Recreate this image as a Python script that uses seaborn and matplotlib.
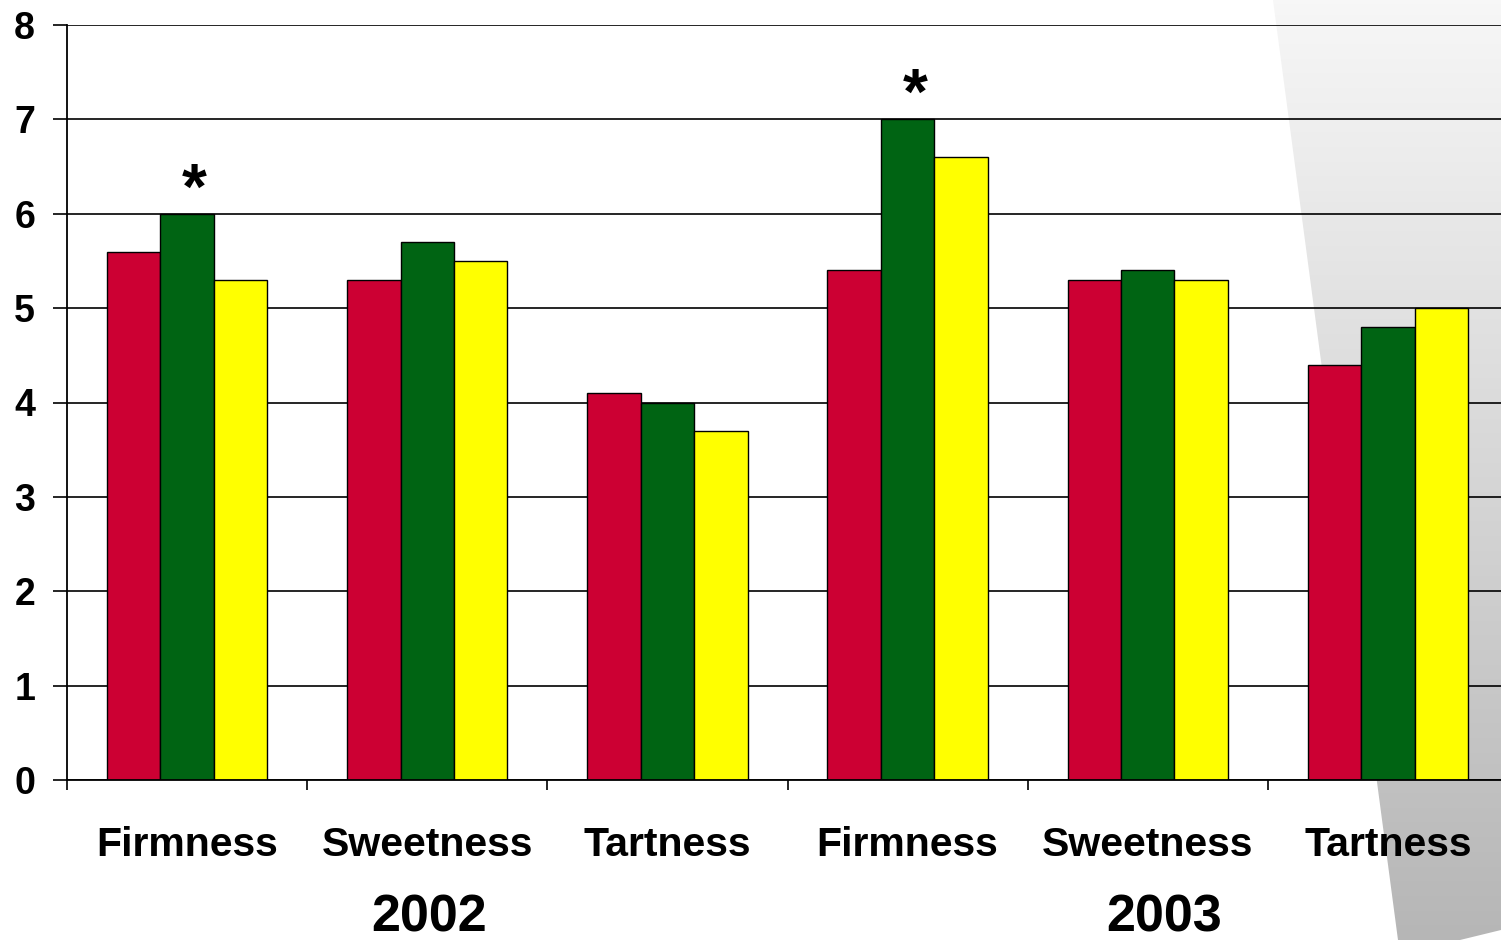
import numpy as np
import pandas as pd
import matplotlib
matplotlib.use("Agg")
import matplotlib.pyplot as plt
from matplotlib.patches import Polygon
import seaborn as sns

# Sensory scores by attribute and year, three treatments per attribute
groups = ["2002 Firmness", "2002 Sweetness", "2002 Tartness",
          "2003 Firmness", "2003 Sweetness", "2003 Tartness"]
group_labels = ["Firmness", "Sweetness", "Tartness",
                "Firmness", "Sweetness", "Tartness"]
years = ["2002", "2003"]
series_names = ["A", "B", "C"]
series_a = [5.6, 5.3, 4.1, 5.4, 5.3, 4.4]
series_b = [6.0, 5.7, 4.0, 7.0, 5.4, 4.8]
series_c = [5.3, 5.5, 3.7, 6.6, 5.3, 5.0]
significant = ["2002 Firmness", "2003 Firmness"]   # marked with * over series B
yticks = [0, 1, 2, 3, 4, 5, 6, 7, 8]

colors = ["#CC0033", "#006413", "#FFFF00"]

df = pd.DataFrame({
    "group": groups * 3,
    "series": np.repeat(series_names, len(groups)),
    "score": series_a + series_b + series_c,
})

sns.set_theme(style="white")
plt.rcParams["font.family"] = ["Liberation Sans", "DejaVu Sans"]
plt.rcParams["font.weight"] = "bold"
plt.rcParams["text.color"] = "black"
plt.rcParams["xtick.color"] = "black"
plt.rcParams["ytick.color"] = "black"

W, H = 1501, 940
fig = plt.figure(figsize=(W / 100, H / 100), dpi=100)
fig.patch.set_facecolor("white")

# Slide backdrop: grey gradient wedge along the right edge
bg = fig.add_axes([0, 0, 1, 1], zorder=-5)
bg.set_xlim(0, W)
bg.set_ylim(H, 0)
bg.axis("off")
grad = np.linspace(247, 182, 256)[:, None] / 255.0
grad = np.repeat(grad, 2, axis=1)
img = bg.imshow(np.dstack([grad, grad, grad]), extent=[1260, W, H, 0],
                aspect="auto", zorder=0)
wedge = Polygon([(1273, 0), (W, 0), (W, 930), (1460, H), (1398, H)],
                closed=True, transform=bg.transData, facecolor="none",
                edgecolor="none")
bg.add_patch(wedge)
img.set_clip_path(wedge)

left_px, right_px, top_px, bottom_px = 67, 1508, 25, 780
ax = fig.add_axes([left_px / W, 1 - bottom_px / H,
                   (right_px - left_px) / W, (bottom_px - top_px) / H])
ax.set_facecolor("none")

sns.barplot(data=df, x="group", y="score", hue="series", order=groups,
            hue_order=series_names, palette=colors, width=0.667,
            edgecolor="black", linewidth=1.0, saturation=1.0,
            legend=False, ax=ax, zorder=3)

ax.set_xlim(-0.5, len(groups) - 0.5)
ax.set_ylim(0, 8)
ax.set_yticks(yticks)
ax.set_yticklabels([str(t) for t in yticks], fontsize=27, fontweight="bold",
                   color="black")
ax.yaxis.grid(True, color="black", linewidth=1.2, zorder=1)
ax.set_axisbelow(True)
ax.tick_params(axis="y", direction="out", length=10, width=1.2,
               color="black", pad=13, left=True)

# Category labels centred under each group; tick marks at group boundaries
ax.set_xticks(range(len(groups)))
ax.set_xticklabels(group_labels, fontsize=29.5, fontweight="bold",
                   color="black")
ax.tick_params(axis="x", which="major", length=0, pad=33)
ax.set_xticks(np.arange(-0.5, len(groups), 1.0), minor=True)
ax.tick_params(axis="x", which="minor", direction="out", length=7,
               width=1.2, color="black", bottom=True)

ax.set_xlabel("")
ax.set_ylabel("")
for side in ["top", "right"]:
    ax.spines[side].set_visible(False)
for side in ["left", "bottom"]:
    ax.spines[side].set_color("black")
    ax.spines[side].set_linewidth(1.3)
    ax.spines[side].set_zorder(4)

# Year labels below the attribute labels
year_x = [1.006, 4.067]
for yx, yr in zip(year_x, years):
    ax.text(yx, -0.183, yr, transform=ax.get_xaxis_transform(),
            ha="center", va="center", fontsize=37.5, fontweight="bold",
            color="black")

# Significance marks over series B
for g in significant:
    i = groups.index(g)
    val = series_b[i]
    ax.text(i + 0.03, val - 0.08, "*", ha="center", va="bottom",
            fontsize=46, fontweight="bold", color="black", zorder=5)

fig.savefig("out.png", dpi=100)
